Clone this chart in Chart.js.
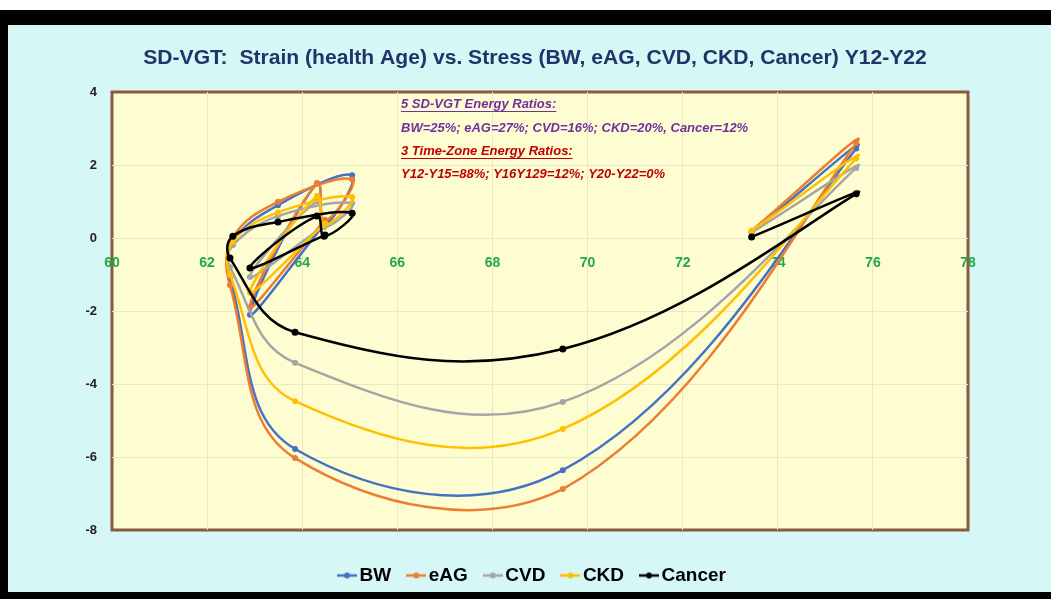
<!DOCTYPE html>
<html>
<head>
<meta charset="utf-8">
<script src="https://cdn.jsdelivr.net/npm/chart.js@4.4.1/dist/chart.umd.min.js"></script>
<style>
html, body { margin: 0; padding: 0; width: 1051px; height: 599px; overflow: hidden; background: #000; }
#topStrip { position: absolute; left: 0; top: 0; width: 1051px; height: 10px; background: #fff; }
#bg { position: absolute; left: 8px; top: 25px; width: 1043px; height: 567px; background: #d5f8f6; }
#wrap { position: absolute; left: 19px; top: 25px; width: 1032px; height: 570px; }
</style>
</head>
<body>
<div id="topStrip"></div>
<div id="bg"></div>
<div id="wrap"><canvas id="myChart" width="1032" height="570"></canvas></div>
<script>
// health age (strain), in path order
const healthAge = [73.45, 75.65, 69.48, 63.85, 62.48, 62.54, 63.49, 65.05, 64.46, 64.31, 62.9, 64.48];

// stress values per series
const bw     = [0.15, 2.45, -6.36, -5.78, -1.10, -0.10, 0.90, 1.72, 0.35, 1.50, -2.10, 0.40];
const eag    = [0.20, 2.60, -6.88, -6.03, -1.29,  0.00, 0.99, 1.60, 0.45, 1.50, -1.90, 0.50];
const cvd    = [0.15, 1.92, -4.49, -3.42, -0.80, -0.20, 0.60, 0.95, 0.30, 1.00, -1.07, 0.35];
const ckd    = [0.20, 2.18, -5.23, -4.47, -1.00, -0.10, 0.70, 1.12, 0.35, 1.15, -1.50, 0.40];
const cancer = [0.03, 1.21, -3.04, -2.58, -0.55,  0.05, 0.44, 0.68, 0.05, 0.60, -0.82, 0.08];

const seriesNames = ['BW', 'eAG', 'CVD', 'CKD', 'Cancer'];
const xTicks = [60, 78, 2];
const yTicks = [-8, 4, 2];

const noteLines = [
    'BW=25%; eAG=27%; CVD=16%; CKD=20%, Cancer=12%',
    'Y12-Y15=88%; Y16Y129=12%; Y20-Y22=0%'
];
const noteHeads = ['5 SD-VGT Energy Ratios:', '3 Time-Zone Energy Ratios:'];

const titleText = 'SD-VGT:  Strain (health Age) vs. Stress (BW, eAG, CVD, CKD, Cancer) Y12-Y22';
const fam = "'Liberation Sans', Arial, sans-serif";
const titleFam = "'Liberation Sans Narrow', 'Liberation Sans', Arial, sans-serif";

const mctx = document.createElement('canvas').getContext('2d');
mctx.font = 'bold 20px ' + titleFam;
const titleSize = Math.min(24, 20 * 784 / mctx.measureText(titleText).width);

const colors = ['#4472c4', '#ed7d31', '#a5a5a5', '#ffc000', '#000000'];
const values = [bw, eag, cvd, ckd, cancer];

function legendMark(color) {
    const c = document.createElement('canvas');
    c.width = 20; c.height = 8;
    const g = c.getContext('2d');
    g.strokeStyle = color; g.lineWidth = 2.5;
    g.beginPath(); g.moveTo(0, 4); g.lineTo(20, 4); g.stroke();
    g.fillStyle = color;
    g.beginPath(); g.arc(10, 4, 3, 0, Math.PI * 2); g.fill();
    return c;
}
const marks = colors.map(legendMark);

const datasets = seriesNames.map(function (name, i) {
    return {
        label: name,
        data: healthAge.map(function (x, j) { return { x: x, y: values[i][j] }; }),
        borderColor: colors[i],
        backgroundColor: colors[i],
        borderWidth: 2.5,
        pointRadius: i === 4 ? 3.5 : 3,
        pointBorderWidth: 0,
        showLine: true,
        fill: false,
        tension: 0.4,
        order: 4 - i,
        xAxisID: 'x',
        yAxisID: 'y'
    };
});

const plotFrame = {
    id: 'plotFrame',
    beforeDraw: function (chart) {
        const a = chart.chartArea, ctx = chart.ctx;
        ctx.save();
        ctx.fillStyle = '#fefdd2';
        ctx.fillRect(a.left, a.top, a.right - a.left, a.bottom - a.top);
        ctx.strokeStyle = '#8b5a3c';
        ctx.lineWidth = 3;
        ctx.strokeRect(a.left, a.top, a.right - a.left, a.bottom - a.top);
        ctx.restore();
    },
    afterDatasetsDraw: function (chart) {
        const ctx = chart.ctx;
        const x0 = 382;
        const ys = [79, 103, 126, 149];
        const cols = ['#7030a0', '#7030a0', '#c00000', '#c00000'];
        const texts = [noteHeads[0], noteLines[0], noteHeads[1], noteLines[1]];
        ctx.save();
        ctx.font = 'italic bold 13px ' + fam;
        ctx.textBaseline = 'middle';
        texts.forEach(function (t, i) {
            ctx.fillStyle = cols[i];
            ctx.fillText(t, x0, ys[i]);
            if (i === 0 || i === 2) {
                const w = ctx.measureText(t).width;
                ctx.strokeStyle = cols[i];
                ctx.lineWidth = 1.2;
                ctx.beginPath();
                ctx.moveTo(x0, ys[i] + 7.5);
                ctx.lineTo(x0 + w, ys[i] + 7.5);
                ctx.stroke();
            }
        });
        ctx.restore();
    }
};

function gridColor(ctx) {
    const v = ctx.tick ? ctx.tick.value : null;
    if (v === xTicks[0] || v === xTicks[1] || v === yTicks[0] || v === yTicks[1]) return 'rgba(0,0,0,0)';
    return '#ebe7c2';
}

new Chart(document.getElementById('myChart'), {
    type: 'scatter',
    data: { datasets: datasets },
    plugins: [plotFrame],
    options: {
        responsive: false,
        animation: false,
        layout: { padding: { top: 0, bottom: 0, left: 0, right: 0 } },
        plugins: {
            title: {
                display: true,
                text: titleText,
                color: '#1f3468',
                font: { family: titleFam, size: titleSize, weight: 'bold', lineHeight: 1.2 },
                padding: { top: 33 - 0.6 * titleSize, bottom: 34 - 0.6 * titleSize }
            },
            legend: {
                position: 'bottom',
                labels: {
                    usePointStyle: true,
                    pointStyleWidth: 6,
                    padding: 22,
                    color: '#222',
                    font: { family: fam, size: 19, weight: 'bold' },
                    generateLabels: function (chart) {
                        return seriesNames.map(function (n, i) {
                            return {
                                text: n, pointStyle: marks[i], fillStyle: colors[i],
                                strokeStyle: colors[i], lineWidth: 0, hidden: false, datasetIndex: i
                            };
                        });
                    }
                }
            },
            tooltip: { enabled: false }
        },
        scales: {
            x: {
                type: 'linear', axis: 'x', min: xTicks[0], max: xTicks[1],
                position: { y: 0 },
                ticks: { stepSize: xTicks[2], color: '#22a84a', padding: 17, maxRotation: 0,
                         font: { family: fam, size: 14, weight: 'bold' } },
                grid: { color: gridColor, drawTicks: false },
                border: { display: false },
                afterFit: function (s) { s.height = 0; }
            },
            y: {
                type: 'linear', axis: 'y', min: yTicks[0], max: yTicks[1], position: 'left',
                ticks: { stepSize: yTicks[2], color: '#222', padding: 15,
                         font: { family: fam, size: 13, weight: 'bold' } },
                grid: { color: gridColor, drawTicks: false },
                border: { display: false },
                afterFit: function (s) { s.width = 93; }
            },
            xs: {
                type: 'linear', axis: 'x', position: 'bottom', display: true,
                ticks: { display: false }, grid: { display: false }, border: { display: false },
                afterFit: function (s) { s.height = 14; }
            },
            yr: {
                type: 'linear', axis: 'y', position: 'right', display: true,
                ticks: { display: false }, grid: { display: false }, border: { display: false },
                afterFit: function (s) { s.width = 83; }
            }
        }
    }
});
</script>
</body>
</html>
